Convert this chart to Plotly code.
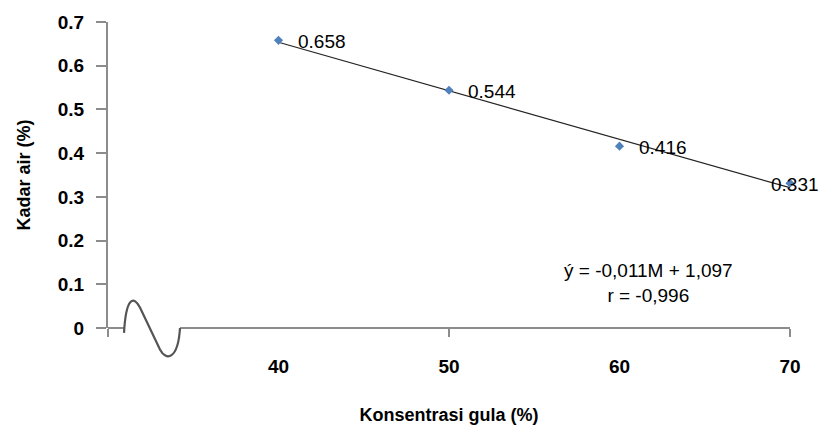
import numpy as np
import plotly.graph_objects as go

# Data
konsentrasi = [40, 50, 60, 70]
kadar_air = [0.658, 0.544, 0.416, 0.331]
labels = ["0.658", "0.544", "0.416", "0.331"]
x_ticks = [40, 50, 60, 70]
y_ticks = [0, 0.1, 0.2, 0.3, 0.4, 0.5, 0.6, 0.7]
y_tick_text = ["0", "0.1", "0.2", "0.3", "0.4", "0.5", "0.6", "0.7"]
eq_text = "ý = -0,011M + 1,097<br>r = -0,996"

# Regression line from the data
slope, intercept = np.polyfit(konsentrasi, kadar_air, 1)
fit_x = np.array([konsentrasi[0], konsentrasi[-1]])
fit_y = slope * fit_x + intercept

W, H = 820, 434
L, R, T, B = 108, 30, 19, 101
pw, ph = W - L - R, H - T - B

def px(x):
    return (x - L) / pw

def py(y):
    return (H - B - y) / ph

FONT = "Liberation Sans, Arial"

fig = go.Figure()
fig.add_trace(go.Scatter(
    x=fit_x, y=fit_y, mode="lines",
    line=dict(color="#222222", width=1.2), hoverinfo="skip", showlegend=False))
fig.add_trace(go.Scatter(
    x=konsentrasi, y=kadar_air, mode="markers",
    marker=dict(symbol="diamond", size=7, color="#4F81BD"),
    cliponaxis=False, showlegend=False))

annotations = []
for i, (xv, yv, lab) in enumerate(zip(konsentrasi, kadar_air, labels)):
    last = i == len(konsentrasi) - 1
    annotations.append(dict(
        x=xv, y=yv, xref="x", yref="y", text=lab, showarrow=False,
        xanchor="center" if last else "left",
        xshift=5 if last else 17, yshift=-1,
        font=dict(family=FONT, size=19, color="black")))

axis_gray = "#8c8c8c"

# x-axis line with break
shapes = [
    dict(type="line", xref="paper", yref="paper", x0=px(108), x1=px(124), y0=0, y1=0,
         line=dict(color=axis_gray, width=2)),
    dict(type="line", xref="paper", yref="paper", x0=px(180), x1=px(790), y0=0, y1=0,
         line=dict(color=axis_gray, width=2)),
]
pts = [(124, 338), (126, 300), (134, 300), (140, 312), (160, 355), (166, 367), (178, 366), (180, 333)]
path = "M {:.4f},{:.4f} C {:.4f},{:.4f} {:.4f},{:.4f} {:.4f},{:.4f} L {:.4f},{:.4f} C {:.4f},{:.4f} {:.4f},{:.4f} {:.4f},{:.4f}".format(
    *[v for p in pts for v in (px(p[0]), py(p[1]))])
shapes.append(dict(type="path", xref="paper", yref="paper", path=path,
                   line=dict(color="#555555", width=2.2)))

annotations.append(dict(
    x=px(648), y=py(287), xref="paper", yref="paper", text=eq_text, showarrow=False,
    xanchor="center", yanchor="middle", align="center",
    font=dict(family=FONT, size=19, color="black")))

fig.update_layout(
    width=W, height=H,
    margin=dict(l=L, r=R, t=T, b=B),
    paper_bgcolor="white", plot_bgcolor="white",
    font=dict(family=FONT, color="black"),
    shapes=shapes,
    annotations=annotations,
    xaxis=dict(
        range=[30, 70], tickvals=x_ticks, ticktext=[str(v) for v in x_ticks],
        ticks="", showline=False, showgrid=False, zeroline=False,
        ticklabelstandoff=25,
        tickfont=dict(family=FONT, size=19, color="black", weight="bold"),
        minor=dict(tickvals=[30, 50, 70], ticks="outside", ticklen=8,
                   tickcolor=axis_gray, tickwidth=2, showgrid=False),
        title=dict(text="<b>Konsentrasi gula (%)</b>", font=dict(family=FONT, size=18), standoff=32),
    ),
    yaxis=dict(
        range=[0, 0.7], tickvals=y_ticks, ticktext=y_tick_text,
        ticks="outside", ticklen=10, tickcolor=axis_gray, tickwidth=2,
        showline=True, linecolor=axis_gray, linewidth=2,
        showgrid=False, zeroline=False, ticklabelstandoff=8,
        tickfont=dict(family=FONT, size=19, color="black", weight="bold"),
        title=dict(text="<b>Kadar air (%)</b>", font=dict(family=FONT, size=18), standoff=22),
    ),
)

fig.write_html("out.html", config={"displayModeBar": False},
               post_script="document.body.style.margin='0';")
